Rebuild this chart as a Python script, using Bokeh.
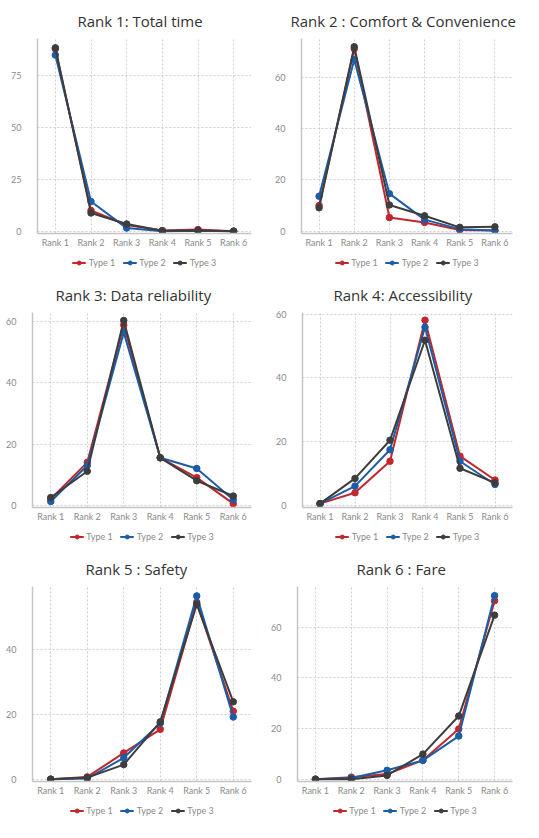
from bokeh.plotting import figure
from bokeh.models import FactorRange, Range1d, SingleIntervalTicker, Legend, LegendItem
from bokeh.layouts import column, row
from bokeh.embed import file_html
from bokeh.resources import INLINE

ranks = ["Rank 1", "Rank 2", "Rank 3", "Rank 4", "Rank 5", "Rank 6"]
series_names = ["Type 1", "Type 2", "Type 3"]
colors = ["#c1272d", "#1c5da8", "#3d3d3d"]

titles = ["Rank 1: Total time", "Rank 2 : Comfort & Convenience",
          "Rank 3: Data reliability", "Rank 4: Accessibility",
          "Rank 5 : Safety", "Rank 6 : Fare"]

# values per panel: Type 1, Type 2, Type 3
total_time_t1 = [88, 10, 3, 0.3, 0.8, 0]
total_time_t2 = [85, 14.3, 1.5, 0, 0.2, 0]
total_time_t3 = [88.5, 8.8, 3.5, 0.2, 0.3, 0]

comfort_t1 = [10, 71, 5.3, 3.4, 0.5, 0.3]
comfort_t2 = [13.6, 66.8, 14.6, 4.5, 0.8, 0.3]
comfort_t3 = [9.1, 71.8, 10.2, 6, 1.5, 1.7]

reliability_t1 = [2, 14, 58.9, 15.5, 9, 0.5]
reliability_t2 = [1.2, 13, 56.5, 15.5, 12, 1.8]
reliability_t3 = [2.5, 11.1, 60.4, 15.5, 8, 3]

access_t1 = [0.5, 3.9, 13.8, 58.1, 15.4, 7.9]
access_t2 = [0.5, 6, 17.4, 55.9, 13.8, 6.5]
access_t3 = [0.5, 8.4, 20.4, 51.8, 11.6, 7]

safety_t1 = [0, 0.7, 8.1, 15.4, 54.6, 21]
safety_t2 = [0, 0.2, 6.6, 17.3, 56.6, 19.2]
safety_t3 = [0, 0.5, 4.5, 17.7, 54, 23.9]

fare_t1 = [0, 0.8, 2, 7.5, 19.8, 70.4]
fare_t2 = [0, 0.5, 3.5, 7.4, 17, 72.4]
fare_t3 = [0, 0, 1.5, 9.9, 24.9, 64.7]

# (title, series, y max, tick interval, left border, title offset)
panels = [
    (titles[0], [total_time_t1, total_time_t2, total_time_t3], 93, 25, 37, 40),
    (titles[1], [comfort_t1, comfort_t2, comfort_t3], 75, 20, 39, -11),
    (titles[2], [reliability_t1, reliability_t2, reliability_t3], 63, 20, 32, 23),
    (titles[3], [access_t1, access_t2, access_t3], 60.5, 20, 40, 31),
    (titles[4], [safety_t1, safety_t2, safety_t3], 59.5, 20, 32, 53),
    (titles[5], [fare_t1, fare_t2, fare_t3], 76, 20, 35, 59),
]

MAIN_H = 250
LEG_H = 24

cells = []
for i, (title, data, yend, interval, bl, toff) in enumerate(panels):
    w = 262 if i % 2 == 0 else 261
    p = figure(x_range=FactorRange(factors=ranks), y_range=Range1d(-yend * 0.012, yend),
               width=w, height=MAIN_H,
               output_backend="svg", toolbar_location=None,
               min_border_left=bl, min_border_right=3,
               min_border_top=2, min_border_bottom=0)
    p.title.text = title
    p.title.align = "left"
    p.title.offset = toff
    p.title.text_font = "Open Sans"
    p.title.text_font_size = "15px"
    p.title.text_font_style = "normal"
    p.title.text_color = "#333333"
    p.title.standoff = 16
    p.outline_line_color = None
    p.background_fill_color = "white"
    p.border_fill_color = "white"

    p.yaxis.ticker = SingleIntervalTicker(interval=interval)
    for ax in (p.xaxis[0], p.yaxis[0]):
        ax.axis_line_color = "#c4c4c4"
        ax.axis_line_width = 1.5
        ax.major_tick_line_color = None
        ax.minor_tick_line_color = None
        ax.major_label_text_font = "Lato"
        ax.major_label_text_font_size = "9px"
        ax.major_label_text_color = "#8a8a8a"
    p.xaxis.major_tick_out = 0
    p.xaxis.major_tick_in = 0
    p.xaxis.major_label_standoff = 3
    p.yaxis.major_tick_out = 0
    p.yaxis.major_tick_in = 0
    p.yaxis.major_label_standoff = 12
    p.xgrid.grid_line_dash = "2 2"
    p.ygrid.grid_line_dash = "2 2"
    p.xgrid.grid_line_color = "#cfcfcf"
    p.ygrid.grid_line_color = "#cfcfcf"

    for vals, c in zip(data, colors):
        p.line(ranks, vals, line_color=c, line_width=2)
        p.scatter(ranks, vals, size=6.5, fill_color=c, line_color=c)

    # legend strip below the chart (its proxies lie outside its visible range)
    lf = figure(width=w, height=LEG_H, x_range=FactorRange(factors=ranks),
                y_range=Range1d(-2 * yend, -yend),
                output_backend="svg", toolbar_location=None,
                min_border_left=bl - 8, min_border_right=11,
                min_border_top=0, min_border_bottom=0)
    lf.axis.visible = False
    lf.grid.visible = False
    lf.outline_line_color = None
    lf.border_fill_color = "white"
    items = []
    for name, vals, c in zip(series_names, data, colors):
        ln = lf.line(ranks, vals, line_color=c, line_width=2)
        sc = lf.scatter(ranks, vals, size=6, fill_color=c, line_color=c)
        items.append(LegendItem(label=name, renderers=[ln, sc]))
    legend = Legend(items=items, orientation="horizontal", location="center",
                    border_line_color=None, background_fill_alpha=0,
                    label_text_font="Lato", label_text_font_size="9px",
                    label_text_color="#8a8a8a", glyph_width=14, glyph_height=10,
                    label_height=10, label_standoff=3, spacing=7, padding=2, margin=0)
    lf.add_layout(legend, "center")
    cells.append(column(p, lf, spacing=0))

layout = column(row(cells[0], cells[1], spacing=0),
                row(cells[2], cells[3], spacing=0),
                row(cells[4], cells[5], spacing=0), spacing=0)

open("out.html", "w").write(file_html(layout, INLINE))
